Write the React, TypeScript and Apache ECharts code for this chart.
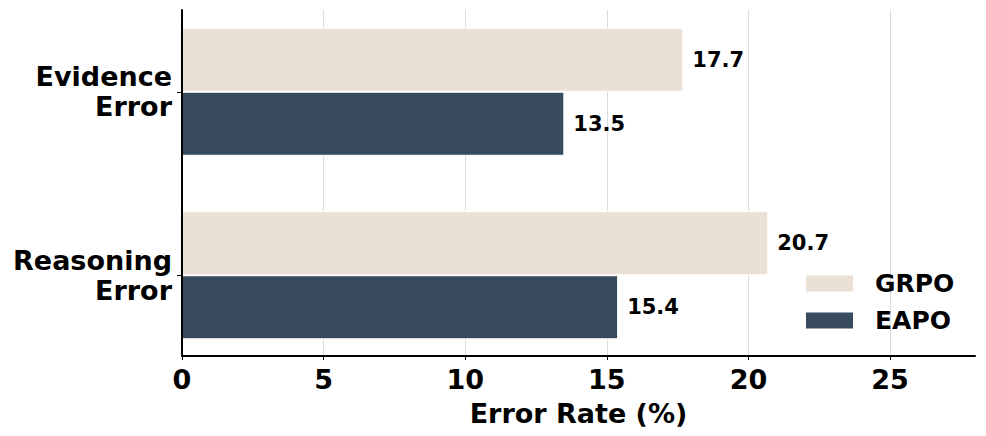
import React, { useEffect, useRef } from "react";
import * as echarts from "echarts";

const categories = ["Evidence Error", "Reasoning Error"];
const grpoValues = [17.7, 20.7];
const eapoValues = [13.5, 15.4];
const xTicks = [0, 5, 10, 15, 20, 25];
const seriesNames = ["GRPO", "EAPO"];

const FONT = "DejaVu Sans";

export default function App() {
  const ref = useRef<HTMLDivElement>(null);
  useEffect(() => {
    if (!ref.current) return;
    const chart = echarts.init(ref.current, null, { renderer: "svg" });
    const labelStyle = {
      show: true,
      position: "right" as const,
      distance: 9,
      fontFamily: FONT,
      fontWeight: "bold" as const,
      fontSize: 21,
      color: "#000",
      formatter: (p: any) => Number(p.value).toFixed(1),
    };
    chart.setOption({
      animation: false,
      backgroundColor: "#fff",
      grid: [
        { left: 182, right: 11, top: -3, height: 370, containLabel: false },
        { left: 182, right: 11, top: 10, bottom: 80, containLabel: false },
      ],
      legend: {
        orient: "vertical",
        left: 801,
        top: 266,
        itemWidth: 47,
        itemHeight: 16,
        itemGap: 12,
        icon: "rect",
        data: seriesNames,
        itemStyle: { borderWidth: 0 },
        textStyle: {
          fontFamily: FONT,
          fontWeight: "bold",
          fontSize: 25,
          lineHeight: 25,
          color: "#000",
          padding: [0, 0, 0, 17],
        },
      },
      xAxis: [
        { gridIndex: 0, type: "value", min: 0, max: 28, show: false },
        {
          gridIndex: 1,
          type: "value",
          min: 0,
          max: 28,
          interval: 5,
          axisLine: { show: true, lineStyle: { color: "#000", width: 2 } },
          axisTick: { show: true, length: 4, lineStyle: { color: "#000", width: 1 } },
          axisLabel: {
            fontFamily: FONT,
            fontWeight: "bold",
            fontSize: 27,
            color: "#000",
            margin: 10,
            showMaxLabel: false,
            formatter: (v: number) => (xTicks.includes(v) ? String(v) : ""),
          },
          splitLine: { show: true, showMaxLine: false, lineStyle: { color: "#dcdcdc", width: 1 } },
          name: "Error Rate (%)",
          nameLocation: "middle",
          nameGap: 44,
          nameTextStyle: { fontFamily: FONT, fontWeight: "bold", fontSize: 27, color: "#000" },
        },
      ],
      yAxis: [
        {
          gridIndex: 0,
          type: "category",
          inverse: true,
          data: categories,
          axisLine: { show: false },
          axisTick: { show: true, alignWithLabel: true, length: 5, lineStyle: { color: "#000" } },
          axisLabel: {
            fontFamily: FONT,
            fontWeight: "bold",
            fontSize: 27,
            color: "#000",
            lineHeight: 30,
            align: "right",
            margin: 10,
            formatter: (v: string) => v.replace(" ", "\n"),
          },
          splitLine: { show: false },
        },
        {
          gridIndex: 1,
          type: "value",
          min: 0,
          max: 1,
          z: 10,
          axisLine: { show: true, lineStyle: { color: "#000", width: 2 } },
          axisTick: { show: false },
          axisLabel: { show: false },
          splitLine: { show: false },
        },
      ],
      series: [
        {
          name: seriesNames[0],
          type: "bar",
          xAxisIndex: 0,
          yAxisIndex: 0,
          data: grpoValues,
          barWidth: 64,
          barGap: "0%",
          itemStyle: { color: "#EAE1D4", borderColor: "#fff", borderWidth: 1 },
          label: labelStyle,
          z: 3,
        },
        {
          name: seriesNames[1],
          type: "bar",
          xAxisIndex: 0,
          yAxisIndex: 0,
          data: eapoValues,
          barWidth: 64,
          barGap: "0%",
          itemStyle: { color: "#384A5E", borderColor: "#fff", borderWidth: 1 },
          label: labelStyle,
          z: 3,
        },
      ],
    });
    return () => chart.dispose();
  }, []);
  return (
    <div
      ref={ref}
      style={{ position: "fixed", left: 0, top: 0, width: 986, height: 436 }}
    />
  );
}
